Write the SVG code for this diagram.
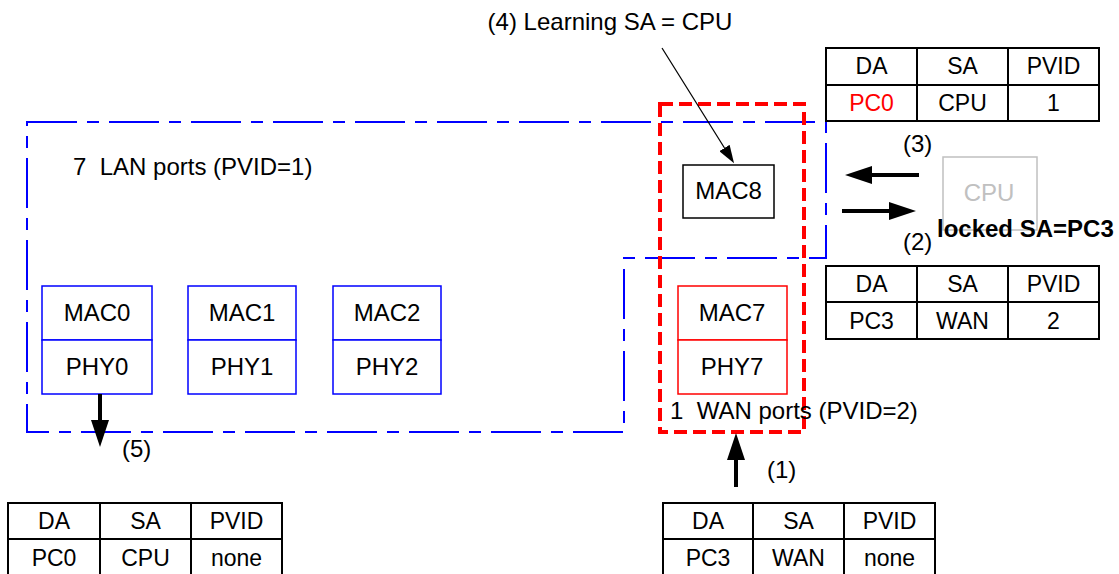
<svg xmlns="http://www.w3.org/2000/svg" width="1119" height="574" viewBox="0 0 1119 574">
<defs>
<style>
text{font-family:"Liberation Sans",Arial,sans-serif;font-size:24px;fill:#000;white-space:pre}
.c{text-anchor:middle}
.t{font-size:23px}
.port{fill:#fff;stroke:#0000ff;stroke-width:1.5}
.wanport{fill:#fff;stroke:#ff0000;stroke-width:1.5}
.tbl{fill:none;stroke:#000;stroke-width:2}
.thick{stroke:#000;stroke-width:4;fill:none}
.thin{stroke:#000;stroke-width:1.2;fill:none}
</style>
<marker id="bigHead" markerUnits="userSpaceOnUse" markerWidth="27" markerHeight="18" refX="0" refY="9" orient="auto" viewBox="0 0 27 18">
<path d="M0,0 L27,9 L0,18 Z" fill="#000"/>
</marker>
<marker id="smallHead" markerUnits="userSpaceOnUse" markerWidth="18" markerHeight="12" refX="0" refY="6" orient="auto" viewBox="0 0 18 12">
<path d="M0,0 L18,6 L0,12 Z" fill="#000"/>
</marker>
</defs>
<rect width="1119" height="574" fill="#fff"/>

<g id="lan-group">
<path d="M27,122 H826 V258 H624 V432 H27 Z" fill="none" stroke="#0000ff" stroke-width="2" stroke-dasharray="50 10 12 10"/>
<text x="73" y="175" xml:space="preserve">7  LAN ports (PVID=1)</text>
</g>

<g id="wan-group">
<rect x="660" y="104" width="144" height="328" fill="none" stroke="#ff0000" stroke-width="4" stroke-dasharray="13 6"/>
</g>

<g id="port0">
<rect class="port" x="42" y="286" width="110" height="54"/>
<rect class="port" x="42" y="340" width="110" height="54"/>
<text class="c" x="97" y="321">MAC0</text>
<text class="c" x="97" y="375">PHY0</text>
</g>
<g id="port1">
<rect class="port" x="188" y="286" width="108" height="54"/>
<rect class="port" x="188" y="340" width="108" height="54"/>
<text class="c" x="242" y="321">MAC1</text>
<text class="c" x="242" y="375">PHY1</text>
</g>
<g id="port2">
<rect class="port" x="333" y="286" width="108" height="54"/>
<rect class="port" x="333" y="340" width="108" height="54"/>
<text class="c" x="387" y="321">MAC2</text>
<text class="c" x="387" y="375">PHY2</text>
</g>
<g id="port7">
<rect class="wanport" x="678" y="286" width="109" height="54"/>
<rect class="wanport" x="678" y="340" width="109" height="54"/>
<text class="c" x="732" y="321">MAC7</text>
<text class="c" x="732" y="375">PHY7</text>
</g>
<g id="mac8">
<rect x="683" y="165" width="91" height="53" fill="#fff" stroke="#000" stroke-width="1.5"/>
<text class="c" x="728.5" y="199">MAC8</text>
</g>
<g id="cpu">
<rect x="943" y="157" width="94" height="73" fill="none" stroke="#c0c0c0" stroke-width="1.5"/>
<text class="c" x="989" y="201" style="fill:#c0c0c0">CPU</text>
</g>

<g id="wan-label">
<text x="670" y="419" xml:space="preserve">1  WAN ports (PVID=2)</text>
</g>

<g id="table-cpu-tx">
<path class="tbl" d="M826,48 H1099 V121 H826 Z M826,85 H1099 M917,48 V121 M1008,48 V121"/>
<text class="c t" x="871.5" y="74">DA</text>
<text class="c t" x="962.5" y="74">SA</text>
<text class="c t" x="1053.5" y="74">PVID</text>
<text class="c t" x="871.5" y="111" style="fill:#ff0000">PC0</text>
<text class="c t" x="962.5" y="111">CPU</text>
<text class="c t" x="1053.5" y="111">1</text>
</g>
<g id="table-cpu-rx">
<path class="tbl" d="M826,266 H1099 V339 H826 Z M826,302 H1099 M917,266 V339 M1008,266 V339"/>
<text class="c t" x="871.5" y="292">DA</text>
<text class="c t" x="962.5" y="292">SA</text>
<text class="c t" x="1053.5" y="292">PVID</text>
<text class="c t" x="871.5" y="329">PC3</text>
<text class="c t" x="962.5" y="329">WAN</text>
<text class="c t" x="1053.5" y="329">2</text>
</g>
<g id="table-wan-in">
<path class="tbl" d="M663,575 V503 H935 V575 M663,539 H935 M753,503 V575 M844,503 V575"/>
<text class="c t" x="708" y="529">DA</text>
<text class="c t" x="798.5" y="529">SA</text>
<text class="c t" x="889.5" y="529">PVID</text>
<text class="c t" x="708" y="566">PC3</text>
<text class="c t" x="798.5" y="566">WAN</text>
<text class="c t" x="889.5" y="566">none</text>
</g>
<g id="table-lan-out">
<path class="tbl" d="M8,575 V503 H282 V575 M8,539 H282 M100,503 V575 M191,503 V575"/>
<text class="c t" x="54" y="529">DA</text>
<text class="c t" x="145.5" y="529">SA</text>
<text class="c t" x="236.5" y="529">PVID</text>
<text class="c t" x="54" y="566">PC0</text>
<text class="c t" x="145.5" y="566">CPU</text>
<text class="c t" x="236.5" y="566">none</text>
</g>

<g id="connectors">
<line class="thin" x1="662" y1="48" x2="724.5" y2="148" marker-end="url(#smallHead)"/>
<line class="thick" x1="919" y1="175" x2="872" y2="175" marker-end="url(#bigHead)"/>
<line class="thick" x1="842" y1="211" x2="889" y2="211" marker-end="url(#bigHead)"/>
<line class="thick" x1="736" y1="487" x2="736" y2="460" marker-end="url(#bigHead)"/>
<line class="thick" x1="100" y1="394" x2="100" y2="420" marker-end="url(#bigHead)"/>
</g>

<g id="labels">
<text class="c" x="610" y="30">(4) Learning SA = CPU</text>
<text x="903" y="152">(3)</text>
<text x="903" y="250">(2)</text>
<text x="937" y="237" style="font-weight:bold">locked SA=PC3</text>
<text x="767" y="478">(1)</text>
<text x="122" y="457">(5)</text>
</g>
</svg>
